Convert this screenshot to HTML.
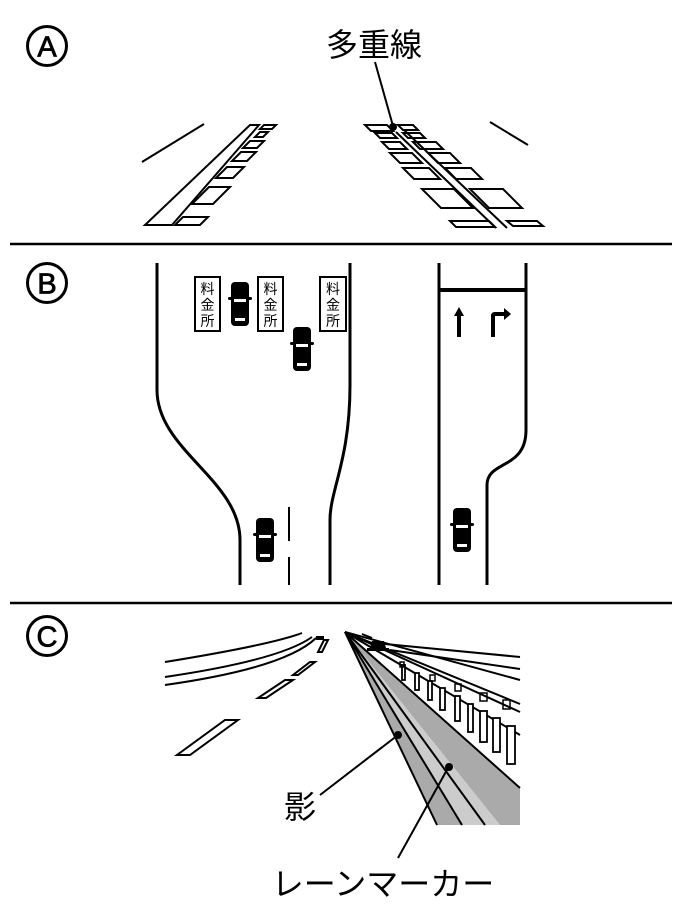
<!DOCTYPE html>
<html><head><meta charset="utf-8"><style>
html,body{margin:0;padding:0;background:#fff;}
svg{display:block;}
text{font-family:"Liberation Sans","Noto Sans CJK JP",sans-serif;fill:#000;}
</style></head><body>
<svg width="685" height="910" viewBox="0 0 685 910" xmlns="http://www.w3.org/2000/svg">
<g fill="none" stroke="#000" stroke-width="3">
<circle cx="47" cy="46" r="19.5"/>
<circle cx="47" cy="283" r="19.5"/>
<circle cx="47" cy="636" r="19.5"/>
</g>
<g font-size="29" text-anchor="middle" stroke="#000" stroke-width="0.8">
<text x="47" y="56.5">A</text>
<text x="47" y="293.5">B</text>
<text x="47" y="646.5">C</text>
</g>

<line x1="10" y1="244" x2="672" y2="244" stroke="#000" stroke-width="2.5"/>
<line x1="10" y1="603" x2="672" y2="603" stroke="#000" stroke-width="2.5"/>

<!-- Section A -->
<text x="374" y="56" font-size="32" text-anchor="middle">多重線</text>
<line x1="375" y1="62" x2="393" y2="126" stroke="#000" stroke-width="2"/>
<circle cx="393" cy="127" r="4" fill="#000"/>
<line x1="142" y1="162" x2="204" y2="124" stroke="#000" stroke-width="2"/>
<line x1="490" y1="122" x2="528" y2="145" stroke="#000" stroke-width="2"/>
<g fill="none" stroke="#000" stroke-width="2" stroke-linejoin="miter">
<polygon points="145,225 172,225 259,125 250,125"/>
<polygon points="260,129 272,129 276,125 264,125"/>
<polygon points="255,137 263,137 268,132 260,132"/>
<polygon points="243,148 257,148 264,141 250,141"/>
<polygon points="232,161 247,161 256,152 241,152"/>
<polygon points="216,178 233,178 244,167 227,167"/>
<polygon points="192,204 213,204 230,187 209,187"/>
<polygon points="175,225 200,225 208,217 183,217"/>

<polygon points="365,125 387,125 393,131 371,131"/>
<polygon points="375,133 392,133 397,138 380,138"/>
<polygon points="382,142 400,142 407,149 389,149"/>
<polygon points="390,153 412,153 422,163 400,163"/>
<polygon points="403,168 429,168 440,179 414,179"/>
<polygon points="422,189 454,189 473,208 441,208"/>
<polygon points="450,221 489,221 495,227 456,227"/>

<polygon points="398,125 413,125 418,130 403,130"/>
<polygon points="403,133 420,133 425,138 408,138"/>
<polygon points="413,142 436,142 443,149 420,149"/>
<polygon points="428,153 450,153 460,163 438,163"/>
<polygon points="445,168 471,168 482,179 456,179"/>
<polygon points="470,189 503,189 522,208 489,208"/>
<polygon points="507,221 537,221 543,226 513,226"/>
<line x1="396" y1="132" x2="496" y2="228"/>
<line x1="404" y1="130" x2="507" y2="228"/>
</g>

<!-- Section B -->
<g fill="none" stroke="#000" stroke-width="3">
<path d="M157,263 V390 C157,450 240,480 240,540 V585"/>
<path d="M350,263 V385 C350,460 330,490 330,520 V585"/>
<line x1="289" y1="507" x2="289" y2="541" stroke-width="2"/>
<line x1="289" y1="557" x2="289" y2="585" stroke-width="2"/>
<path d="M439,263 V585"/>
<path d="M526,263 V430 C526,470 487,460 487,485 V585"/>
<line x1="439" y1="290" x2="526" y2="290" stroke-width="4"/>
</g>
<g fill="#fff" stroke="#000" stroke-width="2">
<rect x="195" y="277" width="25" height="54"/>
<rect x="258" y="277" width="25" height="54"/>
<rect x="320" y="277" width="26" height="54"/>
</g>
<g font-size="14" text-anchor="middle">
<text x="207.5" y="294">料</text><text x="207.5" y="310">金</text><text x="207.5" y="326">所</text>
<text x="270.5" y="294">料</text><text x="270.5" y="310">金</text><text x="270.5" y="326">所</text>
<text x="333" y="294">料</text><text x="333" y="310">金</text><text x="333" y="326">所</text>
</g>
<g fill="#000">
<path d="M457,337 V316 H454 L459,307 L464,316 H461 V337 Z"/>
<path d="M491,337 V316 Q491,312 495,312 H504 V308 L511,314 L504,320 V316 H495 V337 Z"/>
</g>
<defs>
<g id="car">
<rect x="-9" y="-22" width="18" height="44" rx="4" fill="#000"/>
<rect x="-12" y="-7" width="24" height="3" rx="1.5" fill="#000"/>
<rect x="-6" y="-5" width="12" height="3" fill="#fff"/>
<rect x="-5" y="14" width="10" height="3" fill="#fff"/>
</g>
</defs>
<use href="#car" x="240" y="304"/>
<use href="#car" x="302" y="349"/>
<use href="#car" x="265" y="540"/>
<use href="#car" x="462" y="530"/>

<!-- Section C -->
<polygon points="345,632 437,825 462,825" fill="#aaa"/>
<polygon points="345,632 462,825 500,825" fill="#ccc"/>
<polygon points="345,632 500,825 520,825 520,788" fill="#aaa"/>
<g fill="none" stroke="#000" stroke-width="2">
<line x1="345" y1="632" x2="437" y2="825"/>
<line x1="345" y1="632" x2="462" y2="825"/>
<line x1="345" y1="632" x2="485" y2="825"/>
<line x1="345" y1="632" x2="520" y2="788"/>
<line x1="345" y1="632" x2="520" y2="735"/>
<line x1="345" y1="632" x2="520" y2="712"/>
<line x1="345" y1="632" x2="520" y2="704"/>
<line x1="345" y1="632" x2="520" y2="680"/>
<line x1="375" y1="643" x2="520" y2="657"/>
<line x1="390" y1="650" x2="520" y2="669"/>
<line x1="362" y1="634" x2="372" y2="638"/>
<path d="M302,633 Q270,645 165,662"/>
<path d="M312,637 Q280,660 165,677"/>
<path d="M316,638 Q285,668 165,685"/>
<polygon points="177,755 190,755 238,720 225,720"/>
<polygon points="258,698 266,698 293,680 285,680"/>
<polygon points="293,675 298,675 315,662 310,662"/>
<polygon points="318,652 322,652 328,640 324,640"/>
</g>
<g fill="#fff" stroke="#000" stroke-width="1.8">
<rect x="402" y="665" width="3" height="15"/>
<rect x="415" y="673" width="4" height="17"/>
<rect x="428" y="681" width="4" height="19"/>
<rect x="440" y="688" width="5" height="22"/>
<rect x="455" y="696" width="5" height="25"/>
<rect x="468" y="704" width="5" height="28"/>
<rect x="480" y="711" width="7" height="31"/>
<rect x="493" y="718" width="7" height="34"/>
<rect x="507" y="726" width="8" height="38"/>
</g>
<g fill="none" stroke="#000" stroke-width="1.5">
<rect x="400" y="662" width="4" height="5"/>
<rect x="430" y="675" width="5" height="6"/>
<rect x="455" y="684" width="6" height="7"/>
<rect x="480" y="693" width="7" height="8"/>
<rect x="503" y="700" width="7" height="9"/>
</g>
<g fill="#000">
<path d="M370,648 L372,641 H384 L386,648 H389 V651 H367 V648 Z"/>
<path d="M316,636 h8 v4 h-8 z"/>
</g>
<line x1="320" y1="795" x2="398" y2="735" stroke="#000" stroke-width="2"/>
<circle cx="398" cy="735" r="4" fill="#000"/>
<line x1="398" y1="858" x2="448" y2="768" stroke="#000" stroke-width="2"/>
<circle cx="449" cy="767" r="4" fill="#000"/>
<text x="300" y="818" font-size="32" text-anchor="middle">影</text>
<text x="383" y="895" font-size="32" text-anchor="middle">レーンマーカー</text>
</svg>
</body></html>
